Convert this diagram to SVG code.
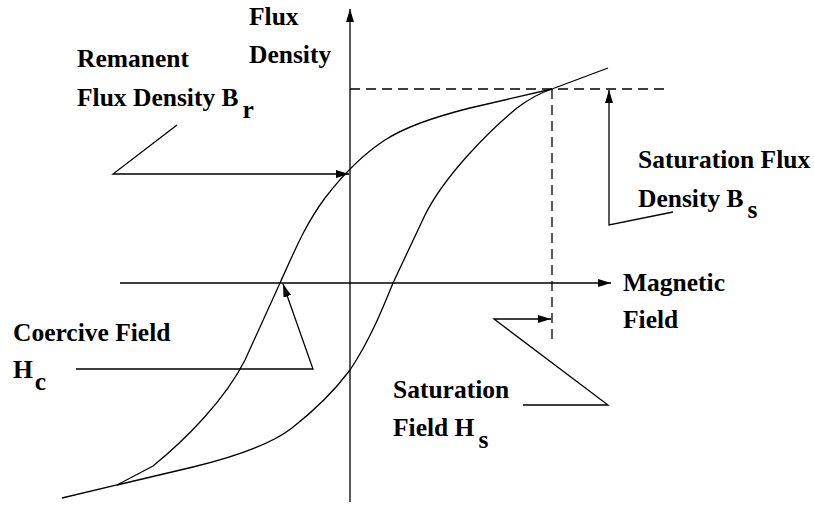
<svg xmlns="http://www.w3.org/2000/svg" width="814" height="514" viewBox="0 0 814 514">
<style>
.ln{fill:none;stroke:#000;stroke-width:1.3}
.ds{fill:none;stroke:#000;stroke-width:1.3;stroke-dasharray:10 6}
text{font-family:'Liberation Serif','Times New Roman','DejaVu Serif',serif;font-weight:bold;font-size:25.5px;fill:#000}
</style>
<defs>
<marker id="ah" markerWidth="14" markerHeight="8" refX="13" refY="4" orient="auto" markerUnits="userSpaceOnUse">
<path d="M0,0 L13,4 L0,8 Z" fill="#000"/>
</marker>
</defs>
<rect width="814" height="514" fill="#fff"/>
<g id="axes">
<line class="ln" x1="350" y1="502" x2="350" y2="9" marker-end="url(#ah)"/>
<line class="ln" x1="120" y1="283" x2="611" y2="283" marker-end="url(#ah)"/>
<line class="ds" x1="350" y1="89" x2="667" y2="89"/>
<line class="ds" x1="552" y1="89" x2="552" y2="340"/>
</g>
<g id="hysteresis-loop">
<path class="ln" d="M552,89 L470,108 C430,118 402,129 385,140 C365,153 345,172 325,198 C305,225 295,250 280,283 L245,360 C225,400 185,440 153,466 L117,485 L62,498"/>
<path class="ln" d="M117,485 L193,467 C230,458 270,445 292,428 C315,410 335,390 350,370 C370,340 382,310 393,283 L425,215 C445,175 490,130 517,108 C530,98 540,93 552,89 L608,68"/>
</g>
<g id="connectors">
<polyline class="ln" points="177,125 113,174 349,174" marker-end="url(#ah)"/>
<polyline class="ln" points="76,369 313,369 283,284" marker-end="url(#ah)"/>
<polyline class="ln" points="523,405 608,405 494,319 551,319" marker-end="url(#ah)"/>
<polyline class="ln" points="673,212 609,225 609,90" marker-end="url(#ah)"/>
</g>
<g id="label-flux-density">
<text x="249" y="25">Flux</text>
<text x="249" y="63">Density</text>
</g>
<g id="label-remanent">
<text x="77" y="67">Remanent</text>
<text x="77" y="106">Flux Density B<tspan dx="4" dy="12">r</tspan></text>
</g>
<g id="label-saturation-flux">
<text x="638" y="168">Saturation Flux</text>
<text x="638" y="207">Density B<tspan dx="4" dy="11">s</tspan></text>
</g>
<g id="label-magnetic-field">
<text x="623" y="291">Magnetic</text>
<text x="623" y="328">Field</text>
</g>
<g id="label-coercive">
<text x="13" y="341">Coercive Field</text>
<text x="13" y="378">H<tspan dx="2" dy="12">c</tspan></text>
</g>
<g id="label-saturation-field">
<text x="393" y="398">Saturation</text>
<text x="393" y="436">Field H<tspan dx="4" dy="12">s</tspan></text>
</g>
</svg>
